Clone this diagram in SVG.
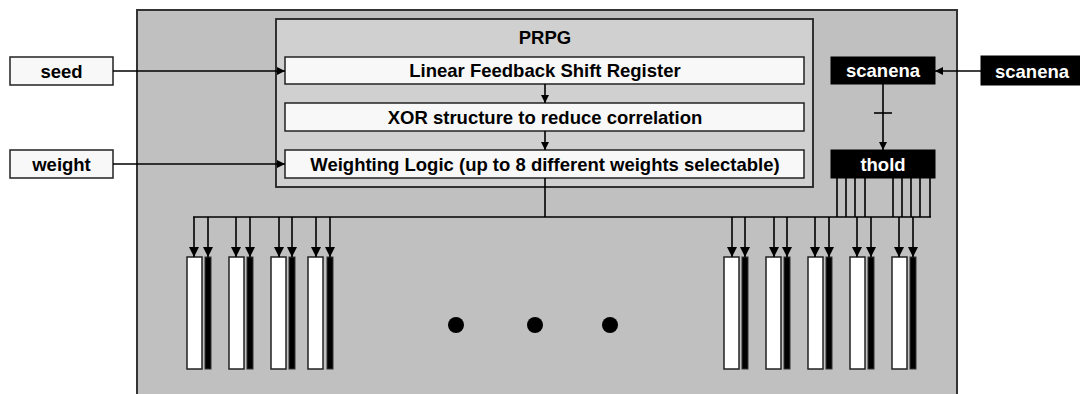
<svg xmlns="http://www.w3.org/2000/svg" width="1080" height="394" viewBox="0 0 1080 394">
  <style>
    .lbl { font-family: "Liberation Sans", Arial, sans-serif; font-weight: bold; font-size: 18.5px; text-anchor: middle; }
    .wht { fill: #fff; }
    .io { fill: #f8f8f8; stroke: #222; stroke-width: 1.5; }
    .stage { fill: #f8f8f8; stroke: #222; stroke-width: 1.5; }
    .bk { fill: #000; stroke: #000; stroke-width: 1; }
    .wire { fill: none; stroke: #000; stroke-width: 1.6; }
    .reg { fill: #fff; stroke: #222; stroke-width: 1.5; }
    .regb { fill: #000; stroke: #333; stroke-width: 1; }
  </style>
  <defs>
    <marker id="arr" markerWidth="8" markerHeight="8" refX="8" refY="4" orient="auto" markerUnits="userSpaceOnUse">
      <path d="M0,0 L8,4 L0,8 Z" fill="#000"/>
    </marker>
    <marker id="arrS" markerWidth="10" markerHeight="10" refX="10" refY="5" orient="auto" markerUnits="userSpaceOnUse">
      <path d="M0,0 L10,5 L0,10 Z" fill="#000"/>
    </marker>
  </defs>

  <rect width="1080" height="394" fill="#fff"/>

  <!-- chip body -->
  <g id="chip">
    <rect x="137" y="10" width="820" height="400" fill="#c0c0c0" stroke="#333" stroke-width="2"/>
  </g>

  <!-- pseudo-random pattern generator -->
  <g id="prpg">
    <rect x="276" y="19" width="537" height="168" fill="#d0d0d0" stroke="#222" stroke-width="1.8"/>
    <text class="lbl" x="545" y="44">PRPG</text>
  </g>
  <g id="lfsr">
    <rect class="stage" x="285" y="57" width="519" height="27"/>
    <text class="lbl" x="545" y="77">Linear Feedback Shift Register</text>
  </g>
  <g id="xor">
    <rect class="stage" x="285" y="103" width="519" height="28"/>
    <text class="lbl" x="545" y="124">XOR structure to reduce correlation</text>
  </g>
  <g id="weighting">
    <rect class="stage" x="285" y="150" width="519" height="28"/>
    <text class="lbl" x="545" y="171">Weighting Logic (up to 8 different weights selectable)</text>
  </g>

  <!-- external inputs -->
  <g id="seed">
    <rect class="io" x="10" y="57" width="103" height="28"/>
    <text class="lbl" x="61.5" y="78">seed</text>
  </g>
  <g id="weight">
    <rect class="io" x="10" y="150" width="103" height="28"/>
    <text class="lbl" x="61.5" y="171">weight</text>
  </g>
  <g id="scanena-in">
    <rect class="bk" x="981" y="56" width="105" height="29"/>
    <text class="lbl wht" x="1032" y="78">scanena</text>
  </g>
  <g id="scanena">
    <rect class="bk" x="831" y="57" width="104" height="27"/>
    <text class="lbl wht" x="883" y="77">scanena</text>
  </g>
  <g id="thold">
    <rect class="bk" x="831" y="150" width="104" height="28"/>
    <text class="lbl wht" x="883" y="171">thold</text>
  </g>

  <!-- scan chains: white = data, black = control -->
  <g id="chains-left">
    <rect class="reg" x="187" y="257" width="15" height="112"/><rect class="regb" x="205" y="257" width="6" height="112"/>
    <rect class="reg" x="229" y="257" width="15" height="112"/><rect class="regb" x="247" y="257" width="6" height="112"/>
    <rect class="reg" x="271" y="257" width="15" height="112"/><rect class="regb" x="289" y="257" width="6" height="112"/>
    <rect class="reg" x="308" y="257" width="15" height="112"/><rect class="regb" x="327" y="257" width="6" height="112"/>
  </g>
  <g id="chains-right">
    <rect class="reg" x="724" y="257" width="15" height="112"/><rect class="regb" x="742" y="257" width="6" height="112"/>
    <rect class="reg" x="766" y="257" width="15" height="112"/><rect class="regb" x="784" y="257" width="6" height="112"/>
    <rect class="reg" x="808" y="257" width="15" height="112"/><rect class="regb" x="826" y="257" width="6" height="112"/>
    <rect class="reg" x="850" y="257" width="15" height="112"/><rect class="regb" x="868" y="257" width="6" height="112"/>
    <rect class="reg" x="892" y="257" width="15" height="112"/><rect class="regb" x="910" y="257" width="6" height="112"/>
  </g>
  <g id="ellipsis">
    <circle cx="456" cy="325" r="8" fill="#000"/>
    <circle cx="535" cy="325" r="8" fill="#000"/>
    <circle cx="610" cy="325" r="8" fill="#000"/>
  </g>

  <!-- connectors -->
  <g id="connectors">
    <line class="wire" x1="113" y1="71" x2="285" y2="71" marker-end="url(#arr)"/>
    <line class="wire" x1="113" y1="164" x2="285" y2="164" marker-end="url(#arr)"/>
    <line class="wire" x1="981" y1="71" x2="935" y2="71" marker-end="url(#arr)"/>
    <line class="wire" x1="545" y1="84" x2="545" y2="103" marker-end="url(#arr)"/>
    <line class="wire" x1="545" y1="131" x2="545" y2="150" marker-end="url(#arr)"/>
    <line class="wire" x1="883" y1="84" x2="883" y2="150" marker-end="url(#arr)"/>
    <line class="wire" x1="874" y1="113" x2="892" y2="113"/>
    <!-- distribution bus -->
    <line class="wire" x1="545" y1="178" x2="545" y2="217" stroke-width="2"/>
    <line class="wire" x1="193" y1="217" x2="931" y2="217" stroke-width="2"/>
    <!-- thold taps -->
    <path class="wire" d="M837,178V217 M846,178V217 M855,178V217 M865,178V217 M893,178V217 M902,178V217 M911,178V217 M920,178V217 M930,178V217"/>
    <!-- drops into chains -->
    <g class="wire" marker-end="url(#arrS)">
      <line x1="194" y1="217" x2="194" y2="257"/><line x1="208" y1="217" x2="208" y2="257"/>
      <line x1="236" y1="217" x2="236" y2="257"/><line x1="250" y1="217" x2="250" y2="257"/>
      <line x1="279" y1="217" x2="279" y2="257"/><line x1="292" y1="217" x2="292" y2="257"/>
      <line x1="316" y1="217" x2="316" y2="257"/><line x1="330" y1="217" x2="330" y2="257"/>
      <line x1="732" y1="217" x2="732" y2="257"/><line x1="745" y1="217" x2="745" y2="257"/>
      <line x1="774" y1="217" x2="774" y2="257"/><line x1="787" y1="217" x2="787" y2="257"/>
      <line x1="815" y1="217" x2="815" y2="257"/><line x1="829" y1="217" x2="829" y2="257"/>
      <line x1="857" y1="217" x2="857" y2="257"/><line x1="871" y1="217" x2="871" y2="257"/>
      <line x1="899" y1="217" x2="899" y2="257"/><line x1="913" y1="217" x2="913" y2="257"/>
    </g>
  </g>
</svg>
